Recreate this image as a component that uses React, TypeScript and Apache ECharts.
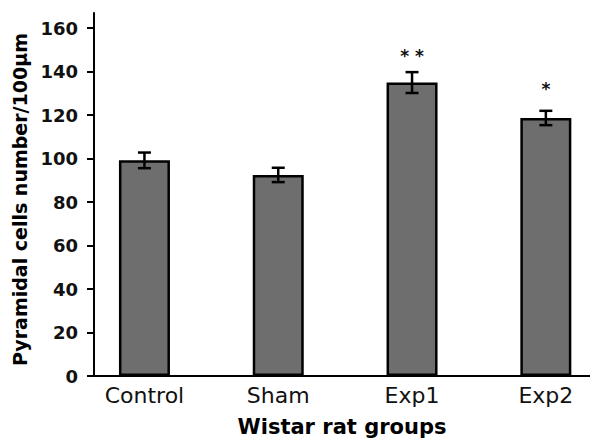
import React, { useEffect, useRef } from "react";
import * as echarts from "echarts";

const categories = ["Control", "Sham", "Exp1", "Exp2"];
const means = [99.2, 92.5, 135, 118.7];
const errors = [3.6, 3.3, 4.8, 3.3];
const significance = ["", "", "* *", "*"];
const significanceY = [0, 0, 147, 132];
const yTicks = [0, 20, 40, 60, 80, 100, 120, 140, 160];
const xPositions = [0, 1, 2, 3];

const FONT = "'DejaVu Sans', Verdana, sans-serif";

export default function App() {
  const ref = useRef<HTMLDivElement>(null);

  useEffect(() => {
    document.body.style.margin = "0";
    const chart = echarts.init(ref.current!, null, { renderer: "svg" });

    const barData = xPositions.map((x, i) => [x, means[i]]);
    const errData = xPositions.map((x, i) => [x, means[i] - errors[i], means[i] + errors[i]]);
    const sigData = xPositions
      .map((x, i) => [x, significanceY[i], i])
      .filter((d) => significance[d[2]] !== "");

    chart.setOption({
      animation: false,
      backgroundColor: "#ffffff",
      grid: {
        left: 94,
        right: 0,
        top: 13,
        bottom: 63,
        containLabel: false,
        outerBoundsMode: "none",
      },
      xAxis: {
        type: "value",
        min: -0.377,
        max: 3.33,
        splitLine: { show: false },
        axisTick: { show: false },
        axisLine: { show: true, onZero: false, lineStyle: { color: "#000", width: 2 } },
        axisLabel: {
          customValues: xPositions,
          formatter: (v: number) => categories[Math.round(v)] ?? "",
          color: "#111",
          fontFamily: FONT,
          fontSize: 22,
          margin: 8,
        },
        name: "Wistar rat groups",
        nameLocation: "middle",
        nameGap: 40,
        nameTextStyle: {
          color: "#000",
          fontFamily: FONT,
          fontWeight: "bold",
          fontSize: 21,
        },
      },
      yAxis: {
        type: "value",
        min: 0,
        max: 167,
        splitLine: { show: false },
        axisLine: { show: true, onZero: false, lineStyle: { color: "#000", width: 2 } },
        axisTick: {
          show: true,
          customValues: yTicks,
          length: 7,
          lineStyle: { color: "#000", width: 2 },
        },
        axisLabel: {
          customValues: yTicks,
          color: "#111",
          fontFamily: FONT,
          fontWeight: "bold",
          fontSize: 18,
          margin: 16,
        },
        name: "Pyramidal cells number/100μm",
        nameLocation: "middle",
        nameGap: 58,
        nameTextStyle: {
          color: "#000",
          fontFamily: FONT,
          fontWeight: "bold",
          fontSize: 19,
          padding: [0, 10, 0, 0],
        },
      },
      series: [
        {
          type: "bar",
          data: barData,
          barWidth: 51,
          itemStyle: { color: "#6e6e6e", borderColor: "#000", borderWidth: 2.5 },
        },
        {
          type: "custom",
          data: errData,
          renderItem: (params: any, api: any) => {
            const x = api.value(0);
            const pLo = api.coord([x, api.value(1)]);
            const pHi = api.coord([x, api.value(2)]);
            const hw = 6.5;
            const style = { stroke: "#000", lineWidth: 2.5 };
            return {
              type: "group",
              children: [
                { type: "line", shape: { x1: pHi[0], y1: pHi[1], x2: pLo[0], y2: pLo[1] }, style },
                { type: "line", shape: { x1: pHi[0] - hw, y1: pHi[1], x2: pHi[0] + hw, y2: pHi[1] }, style },
                { type: "line", shape: { x1: pLo[0] - hw, y1: pLo[1], x2: pLo[0] + hw, y2: pLo[1] }, style },
              ],
            };
          },
          z: 5,
        },
        {
          type: "custom",
          data: sigData,
          renderItem: (params: any, api: any) => {
            const p = api.coord([api.value(0), api.value(1)]);
            const idx = api.value(2);
            return {
              type: "text",
              x: p[0],
              y: p[1],
              style: {
                text: significance[idx],
                fill: "#111",
                fontFamily: FONT,
                fontWeight: "bold",
                fontSize: 17,
                align: "center",
                verticalAlign: "middle",
              },
            };
          },
          z: 6,
        },
      ],
    });

    return () => chart.dispose();
  }, []);

  return (
    <div
      ref={ref}
      style={{ position: "fixed", left: 0, top: 0, width: 590, height: 439 }}
    />
  );
}
